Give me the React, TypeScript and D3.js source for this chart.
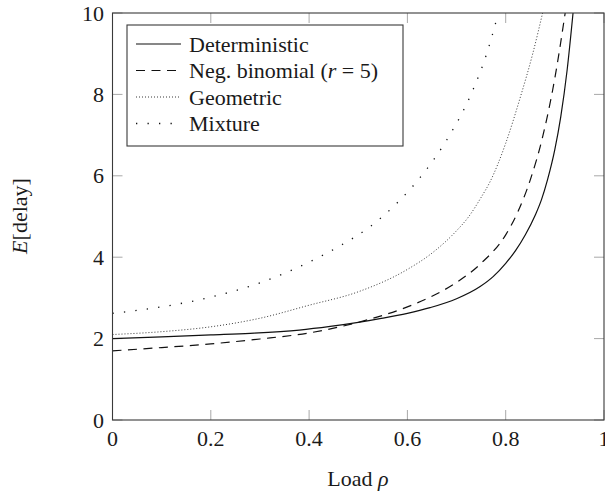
import React from "react";
import * as d3 from "d3";

// Expected delay vs. load for four arrival-batch distributions
const deterministicRho = [0, 0.1, 0.2, 0.28, 0.38, 0.443, 0.5, 0.544, 0.6, 0.646, 0.7, 0.748, 0.775, 0.8, 0.82, 0.84, 0.86, 0.873, 0.885, 0.9, 0.912, 0.925, 0.937];
const deterministicDelay = [2.0, 2.04, 2.09, 2.13, 2.21, 2.3, 2.4, 2.49, 2.62, 2.76, 2.98, 3.28, 3.53, 3.85, 4.16, 4.55, 5.03, 5.42, 5.9, 6.65, 7.45, 8.6, 10.0];

const negBinomialRho = [0, 0.1, 0.2, 0.3, 0.4, 0.5, 0.6, 0.65, 0.7, 0.75, 0.8, 0.825, 0.85, 0.875, 0.9, 0.921];
const negBinomialDelay = [1.7, 1.78, 1.87, 1.99, 2.14, 2.4, 2.78, 3.04, 3.38, 3.85, 4.55, 5.12, 5.9, 6.95, 8.4, 10.0];

const geometricRho = [0, 0.1, 0.2, 0.3, 0.4, 0.5, 0.6, 0.65, 0.7, 0.725, 0.75, 0.768, 0.8, 0.829, 0.855, 0.877];
const geometricDelay = [2.1, 2.17, 2.29, 2.5, 2.82, 3.15, 3.7, 4.1, 4.65, 5.0, 5.47, 5.85, 6.8, 7.9, 9.0, 10.1];

const mixtureRho = [0, 0.1, 0.2, 0.3, 0.4, 0.463, 0.524, 0.578, 0.639, 0.68, 0.733, 0.76, 0.785];
const mixtureDelay = [2.62, 2.78, 3.02, 3.37, 3.88, 4.28, 4.75, 5.32, 6.16, 6.88, 8.1, 8.95, 10.0];

const xTicks = [0, 0.2, 0.4, 0.6, 0.8, 1];
const xTickLabels = ["0", "0.2", "0.4", "0.6", "0.8", "1"];
const yTicks = [0, 2, 4, 6, 8, 10];
const yTickLabels = ["0", "2", "4", "6", "8", "10"];

const seriesNames = ["Deterministic", "Neg. binomial", "Geometric", "Mixture"];

const W = 605;
const H = 495;
const left = 112.5;
const right = 604;
const top = 13;
const bottom = 420;
const FONT = '"Liberation Serif", "DejaVu Serif", "Times New Roman", serif';
const TEXT = "#1a1a1a";
const FS = 22;

type Style = { dash?: string; width: number; color: string };
const styles: Style[] = [
  { width: 1.2, color: "#111" },
  { dash: "9 6.5", width: 1.2, color: "#111" },
  { dash: "1 2", width: 0.9, color: "#222" },
  { dash: "1.3 10.2", width: 1.3, color: "#111" },
];

const textStyle: React.CSSProperties = { fontFamily: FONT, fontSize: FS };

export default function App() {
  const x = d3.scaleLinear().domain([0, 1]).range([left, right]);
  const y = d3.scaleLinear().domain([0, 10]).range([bottom, top]);

  const line = d3
    .line<[number, number]>()
    .x((d) => x(d[0]))
    .y((d) => y(d[1]))
    .curve(d3.curveMonotoneX);

  const series: [number, number][][] = [
    deterministicRho.map((r, i) => [r, deterministicDelay[i]]),
    negBinomialRho.map((r, i) => [r, negBinomialDelay[i]]),
    geometricRho.map((r, i) => [r, geometricDelay[i]]),
    mixtureRho.map((r, i) => [r, mixtureDelay[i]]),
  ];

  const tickLen = 10;
  const legendX = 127;
  const legendY = 25;
  const legendW = 276;
  const legendH = 121;
  const rowY = [44, 70.5, 97, 123.5];

  return (
    <svg
      width={W}
      height={H}
      viewBox={`0 0 ${W} ${H}`}
      style={{ position: "absolute", left: 0, top: 0, background: "#fff" }}
    >
      <defs>
        <clipPath id="plot-area">
          <rect x={left} y={top} width={right - left} height={bottom - top} />
        </clipPath>
      </defs>

      {/* ticks, pointing inward on all four sides */}
      <g stroke="#a8a8a8" strokeWidth={1}>
        {xTicks.map((t) => (
          <g key={`xt${t}`}>
            <line x1={x(t)} x2={x(t)} y1={bottom} y2={bottom - tickLen} />
            <line x1={x(t)} x2={x(t)} y1={top} y2={top + tickLen} />
          </g>
        ))}
        {yTicks.map((t) => (
          <g key={`yt${t}`}>
            <line x1={left} x2={left + tickLen} y1={y(t)} y2={y(t)} />
            <line x1={right} x2={right - tickLen} y1={y(t)} y2={y(t)} />
          </g>
        ))}
      </g>

      {/* curves */}
      <g clipPath="url(#plot-area)" fill="none">
        {series.map((s, i) => (
          <path
            key={seriesNames[i]}
            d={line(s) ?? ""}
            stroke={styles[i].color}
            strokeWidth={styles[i].width}
            strokeDasharray={styles[i].dash}
          />
        ))}
      </g>

      {/* frame */}
      <rect
        x={left}
        y={top}
        width={right - left}
        height={bottom - top}
        fill="none"
        stroke="#3a3a3a"
        strokeWidth={1.1}
      />

      {/* tick labels */}
      <g fill={TEXT}>
        {xTicks.map((t, i) => (
          <text key={`xl${t}`} x={x(t)} y={446} textAnchor="middle" style={textStyle}>
            {xTickLabels[i]}
          </text>
        ))}
        {yTicks.map((t, i) => (
          <text key={`yl${t}`} x={104} y={y(t) + 7.5} textAnchor="end" style={textStyle}>
            {yTickLabels[i]}
          </text>
        ))}
      </g>

      {/* axis titles */}
      <text x={358} y={486} textAnchor="middle" fill={TEXT} style={textStyle}>
        Load <tspan fontStyle="italic">ρ</tspan>
      </text>
      <text
        transform={`translate(27,216) rotate(-90)`}
        textAnchor="middle"
        fill={TEXT}
        style={textStyle}
      >
        <tspan fontStyle="italic">E</tspan>[delay]
      </text>

      {/* legend */}
      <rect
        x={legendX}
        y={legendY}
        width={legendW}
        height={legendH}
        fill="#fff"
        stroke="#3a3a3a"
        strokeWidth={1.1}
      />
      {seriesNames.map((name, i) => (
        <g key={`lg${name}`}>
          <line
            x1={136}
            x2={181}
            y1={rowY[i]}
            y2={rowY[i]}
            stroke={styles[i].color}
            strokeWidth={styles[i].width}
            strokeDasharray={styles[i].dash}
          />
          <text x={189} y={rowY[i] + 7.5} fill={TEXT} style={textStyle}>
            {name}
            {i === 1 ? (
              <>
                {" ("}
                <tspan fontStyle="italic">r</tspan>
                {" = 5)"}
              </>
            ) : null}
          </text>
        </g>
      ))}
    </svg>
  );
}
